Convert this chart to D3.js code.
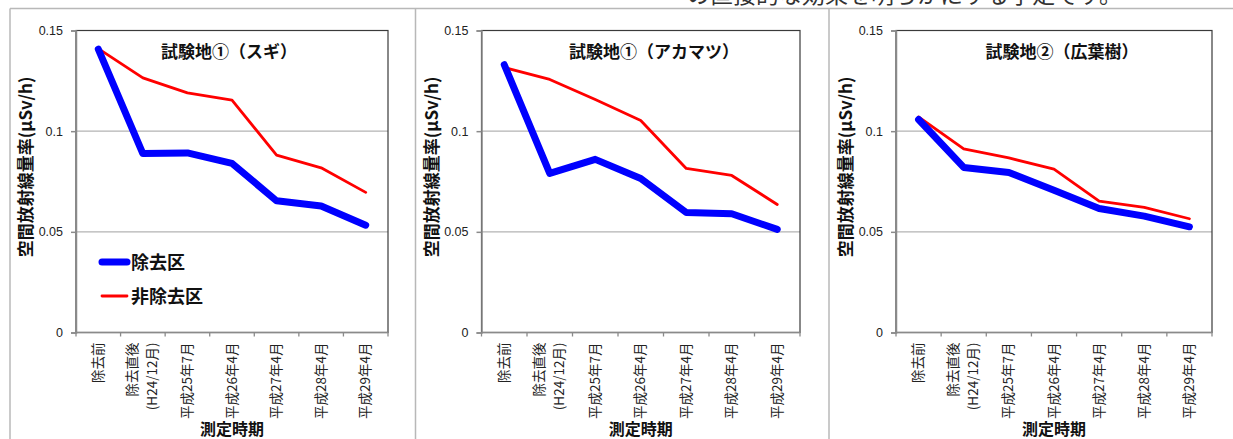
<!DOCTYPE html>
<html><head><meta charset="utf-8">
<script src="https://cdn.jsdelivr.net/npm/d3@7"></script>
<style>
html,body{margin:0;padding:0;background:#fff;overflow:hidden;}
svg{display:block;}
</style></head>
<body>
<svg id="chart" width="1233" height="439"></svg>
<script>
// ---- data ----
const categories = [
  ["除去前"],
  ["除去直後", "(H24/12月)"],
  ["平成25年7月"],
  ["平成26年4月"],
  ["平成27年4月"],
  ["平成28年4月"],
  ["平成29年4月"]
];
const seriesNames = ["除去区", "非除去区"];
const panelTitles = ["試験地①（スギ）", "試験地①（アカマツ）", "試験地②（広葉樹）"];
const sugiRemoved = [0.1407, 0.0889, 0.0892, 0.0840, 0.0654, 0.0628, 0.0533];
const sugiControl = [0.1410, 0.1265, 0.1190, 0.1154, 0.0881, 0.0818, 0.0696];
const akamatsuRemoved = [0.1330, 0.0790, 0.0860, 0.0765, 0.0596, 0.0590, 0.0512];
const akamatsuControl = [0.1316, 0.1257, 0.1157, 0.1053, 0.0815, 0.0780, 0.0636];
const broadleafRemoved = [0.1058, 0.0820, 0.0795, 0.0707, 0.0616, 0.0578, 0.0525];
const broadleafControl = [0.1071, 0.0912, 0.0867, 0.0811, 0.0652, 0.0621, 0.0565];
const yTicks = [0, 0.05, 0.1, 0.15];
const yTitle = "空間放射線量率(μSv/h)";
const xTitle = "測定時期";
const topNote = "の直接的な効果を明らかにする予定です。";

// ---- layout ----
const svg = d3.select("#chart");
const jp = "'Noto Sans CJK JP','Noto Sans',sans-serif";
const num = "'Liberation Sans','DejaVu Sans',sans-serif";
const plotTop = 30.5, plotBottom = 332.5;
const panels = [
  {left: 76, right: 388, titleX: 229, removed: sugiRemoved, control: sugiControl, legend: true},
  {left: 481.5, right: 800, titleX: 654, removed: akamatsuRemoved, control: akamatsuControl, legend: false},
  {left: 896, right: 1212, titleX: 1062, removed: broadleafRemoved, control: broadleafControl, legend: false}
];

// page note (cut off at top, as in the reference)
svg.append("text").attr("x", 687).attr("y", 3)
  .attr("font-family", jp).attr("font-size", 23).attr("fill", "#333")
  .text(topNote);

// frames
const frame = svg.append("g").attr("stroke", "#b8b8b8").attr("stroke-width", 1.5).attr("fill", "none");
frame.append("line").attr("x1", 10).attr("x2", 1233).attr("y1", 8.5).attr("y2", 8.5);
[10, 415.5, 829].forEach(x => frame.append("line").attr("x1", x).attr("x2", x).attr("y1", 8.5).attr("y2", 439));

const y = d3.scaleLinear().domain([0, 0.15]).range([plotBottom, plotTop]);

panels.forEach((p, i) => {
  const g = svg.append("g");
  const x = d3.scaleBand().domain(d3.range(categories.length)).range([p.left, p.right]).padding(0);
  const cx = d => x(d) + x.bandwidth() / 2;

  // gridlines
  g.append("g").selectAll("line").data(yTicks.filter(t => t > 0 && t < 0.15)).join("line")
    .attr("x1", p.left).attr("x2", p.right).attr("y1", d => y(d)).attr("y2", d => y(d))
    .attr("stroke", "#b3b3b3").attr("stroke-width", 1.3);

  // plot border
  g.append("rect").attr("x", p.left).attr("y", plotTop).attr("width", p.right - p.left).attr("height", plotBottom - plotTop)
    .attr("fill", "none").attr("stroke", "#3a3a3a").attr("stroke-width", 1.2);

  // y axis
  const ya = g.append("g").attr("transform", `translate(${p.left},0)`)
    .call(d3.axisLeft(y).tickValues(yTicks).tickSize(5).tickPadding(8).tickFormat(d => String(d)));
  ya.selectAll("path,line").attr("stroke", "#8a8a8a").attr("stroke-width", 1.5);
  ya.selectAll("text").attr("font-family", num).attr("font-size", 12.5).attr("fill", "#222");

  // x axis
  const xa = g.append("g").attr("transform", `translate(0,${plotBottom})`);
  xa.append("line").attr("x1", p.left).attr("x2", p.right).attr("stroke", "#8a8a8a").attr("stroke-width", 1.5);
  const bounds = d3.range(categories.length + 1).map(k => k < categories.length ? x(k) : p.right);
  xa.selectAll("line.tk").data(bounds).join("line").attr("class", "tk")
    .attr("x1", d => d).attr("x2", d => d).attr("y1", 0).attr("y2", 4)
    .attr("stroke", "#8a8a8a").attr("stroke-width", 1.3);
  categories.forEach((lines, k) => {
    lines.forEach((ln, j) => {
      const off = (j - (lines.length - 1) / 2) * 20;
      xa.append("text")
        .attr("transform", `translate(${cx(k) + off + 4.5},10) rotate(-90)`)
        .attr("text-anchor", "end")
        .attr("font-family", jp).attr("font-size", 13.5).attr("fill", "#222")
        .text(ln);
    });
  });

  // series lines
  const line = d3.line().x((d, k) => cx(k)).y(d => y(d));
  g.append("path").datum(p.control).attr("d", line)
    .attr("fill", "none").attr("stroke", "#ff0000").attr("stroke-width", 2.8).attr("stroke-linejoin", "round").attr("stroke-linecap", "round");
  g.append("path").datum(p.removed).attr("d", line)
    .attr("fill", "none").attr("stroke", "#0000ff").attr("stroke-width", 7).attr("stroke-linejoin", "round").attr("stroke-linecap", "round");

  // titles
  g.append("text").attr("x", p.titleX).attr("y", 58).attr("text-anchor", "middle")
    .attr("font-family", jp).attr("font-weight", "bold").attr("font-size", 17).attr("fill", "#111")
    .text(panelTitles[i]);
  g.append("text").attr("transform", `translate(${p.left - 44},167) rotate(-90)`).attr("text-anchor", "middle")
    .attr("font-family", jp).attr("font-weight", "bold").attr("font-size", 17).attr("fill", "#111")
    .text(yTitle);
  g.append("text").attr("x", (p.left + p.right) / 2).attr("y", 435).attr("text-anchor", "middle")
    .attr("font-family", jp).attr("font-weight", "bold").attr("font-size", 16).attr("fill", "#111")
    .text(xTitle);

  // legend
  if (p.legend) {
    const lg = g.append("g");
    const items = [{c: "#0000ff", w: 7, y: 262}, {c: "#ff0000", w: 2.8, y: 296}];
    items.forEach((it, k) => {
      lg.append("line").attr("x1", 102).attr("x2", 127).attr("y1", it.y).attr("y2", it.y)
        .attr("stroke", it.c).attr("stroke-width", it.w).attr("stroke-linecap", "round");
      lg.append("text").attr("x", 131).attr("y", it.y + 6.5)
        .attr("font-family", jp).attr("font-weight", "bold").attr("font-size", 18).attr("fill", "#111")
        .text(seriesNames[k]);
    });
  }
});
</script>
</body></html>
